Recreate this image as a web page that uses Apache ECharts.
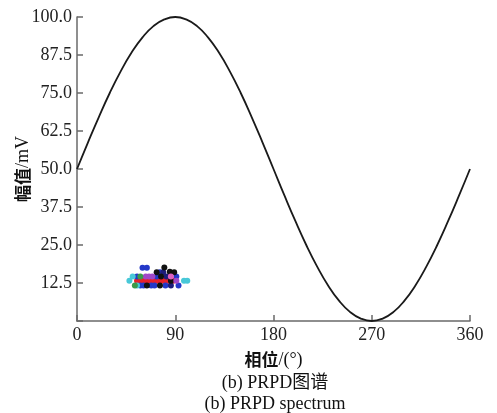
<!DOCTYPE html>
<html><head><meta charset="utf-8">
<script src="https://cdn.jsdelivr.net/npm/echarts@6/dist/echarts.min.js"></script>
<style>html,body{margin:0;padding:0;background:#fff}#c{width:497px;height:413px}</style>
</head><body><div id="c"></div>
<script>
// Reference sine (phase in degrees, amplitude in mV)
const sinePhase = [0,10,20,30,40,50,60,70,80,90,100,110,120,130,140,150,160,170,180,190,200,210,220,230,240,250,260,270,280,290,300,310,320,330,340,350,360];
const sineAmp = [50,58.7,67.1,75,82.1,88.3,93.3,97,99.2,100,99.2,97,93.3,88.3,82.1,75,67.1,58.7,50,41.3,32.9,25,17.9,11.7,6.7,3,0.8,0,0.8,3,6.7,11.7,17.9,25,32.9,41.3,50];
// PD points [phase, amplitude] grouped by colour
const redPts = [[55,13.2],[57.5,13.2],[60,13.2],[62.5,13.2],[65,13.2],[67.5,13.2],[70,13.2],[72.5,13.2],[75,13.2],[77.5,13.2],[80,13.2],[82.5,13.2],[85,13.2],[88,13.2]];
const bluePts = [[60,17.5],[64,17.5],[76,16],[55,14.6],[73,14.6],[91,14.6],[58,11.7],[61,11.7],[68,11.7],[71,11.7],[81,11.7],[93,11.7]];
const blackPts = [[80,17.6],[85,16.2],[73,16],[89,16],[77,14.6],[64,11.7],[76,11.7],[86,13.2]];
const navyPts = [[82,14.6],[86,11.7],[79,16]];
const cyanPts = [[48,13.2],[51,14.6],[55,11.7],[98,13.2],[101,13.2]];
const purplePts = [[63,14.6],[66,14.6],[69,14.6],[91,13.2]];
const greenPts = [[58,14.6],[53,11.7]];
const pinkPts = [[86,14.6]];
const yTicks = [0,12.5,25,37.5,50,62.5,75,87.5,100];
const xTicks = [0,90,180,270,360];

const serif = 'Liberation Serif, Noto Sans CJK SC, serif';
const cjk = 'Noto Sans CJK SC, sans-serif';
const chart = echarts.init(document.getElementById('c'));
const axisCol = '#6a6a6a';
function sc(name, data, color){return {name, type:'scatter', data, symbolSize:6, itemStyle:{color, opacity:1}, z:3};}
const nameRich = {
  zh:{fontFamily:cjk, fontSize:17, fontWeight:'bold', color:'#111'},
  en:{fontFamily:serif, fontSize:18, color:'#111'}
};
chart.setOption({
  animation:false,
  backgroundColor:'#fff',
  grid:{left:77, right:27, top:17, bottom:92, containLabel:false, outerBoundsMode:'none'},
  xAxis:{type:'value', min:xTicks[0], max:xTicks[xTicks.length-1], interval:90,
    name:'{zh|相位}{en|/(°)}', nameLocation:'middle', nameGap:30, nameMoveOverlap:false,
    nameTextStyle:{rich:nameRich},
    axisLine:{lineStyle:{color:axisCol, width:1.5}},
    axisTick:{inside:true, length:6, lineStyle:{color:axisCol, width:1.5}},
    axisLabel:{fontFamily:serif, fontSize:18, color:'#222', margin:5},
    splitLine:{show:false}},
  yAxis:{type:'value', min:yTicks[0], max:yTicks[yTicks.length-1], interval:12.5,
    name:'{zh|幅值}{en|/mV}', nameLocation:'middle', nameGap:45, nameMoveOverlap:false,
    nameTextStyle:{rich:nameRich},
    axisLine:{show:true, lineStyle:{color:axisCol, width:1.5}},
    axisTick:{inside:true, length:6, lineStyle:{color:axisCol, width:1.5}},
    axisLabel:{fontFamily:serif, fontSize:18, color:'#222', margin:5,
      formatter:v=> v===0 ? '' : v.toFixed(1)},
    splitLine:{show:false}},
  series:[
    {type:'line', data:sinePhase.map((p,i)=>[p,sineAmp[i]]), smooth:true, showSymbol:false,
      lineStyle:{color:'#1a1a1a', width:1.8}, z:2},
    sc('red', redPts, '#e8202a'),
    sc('blue', bluePts, '#2438c8'),
    sc('navy', navyPts, '#1c1c7a'),
    sc('black', blackPts, '#111111'),
    sc('cyan', cyanPts, '#48c8d8'),
    sc('purple', purplePts, '#a048c8'),
    sc('green', greenPts, '#3a9a4a'),
    sc('pink', pinkPts, '#e060c0')
  ],
  graphic:[
    {type:'text', x:275, y:383, style:{text:'(b) PRPD图谱', font:'18px '+serif, fill:'#111', textAlign:'center', textVerticalAlign:'middle'}},
    {type:'text', x:275, y:404, style:{text:'(b) PRPD spectrum', font:'18px '+serif, fill:'#111', textAlign:'center', textVerticalAlign:'middle'}}
  ]
});
</script></body></html>
